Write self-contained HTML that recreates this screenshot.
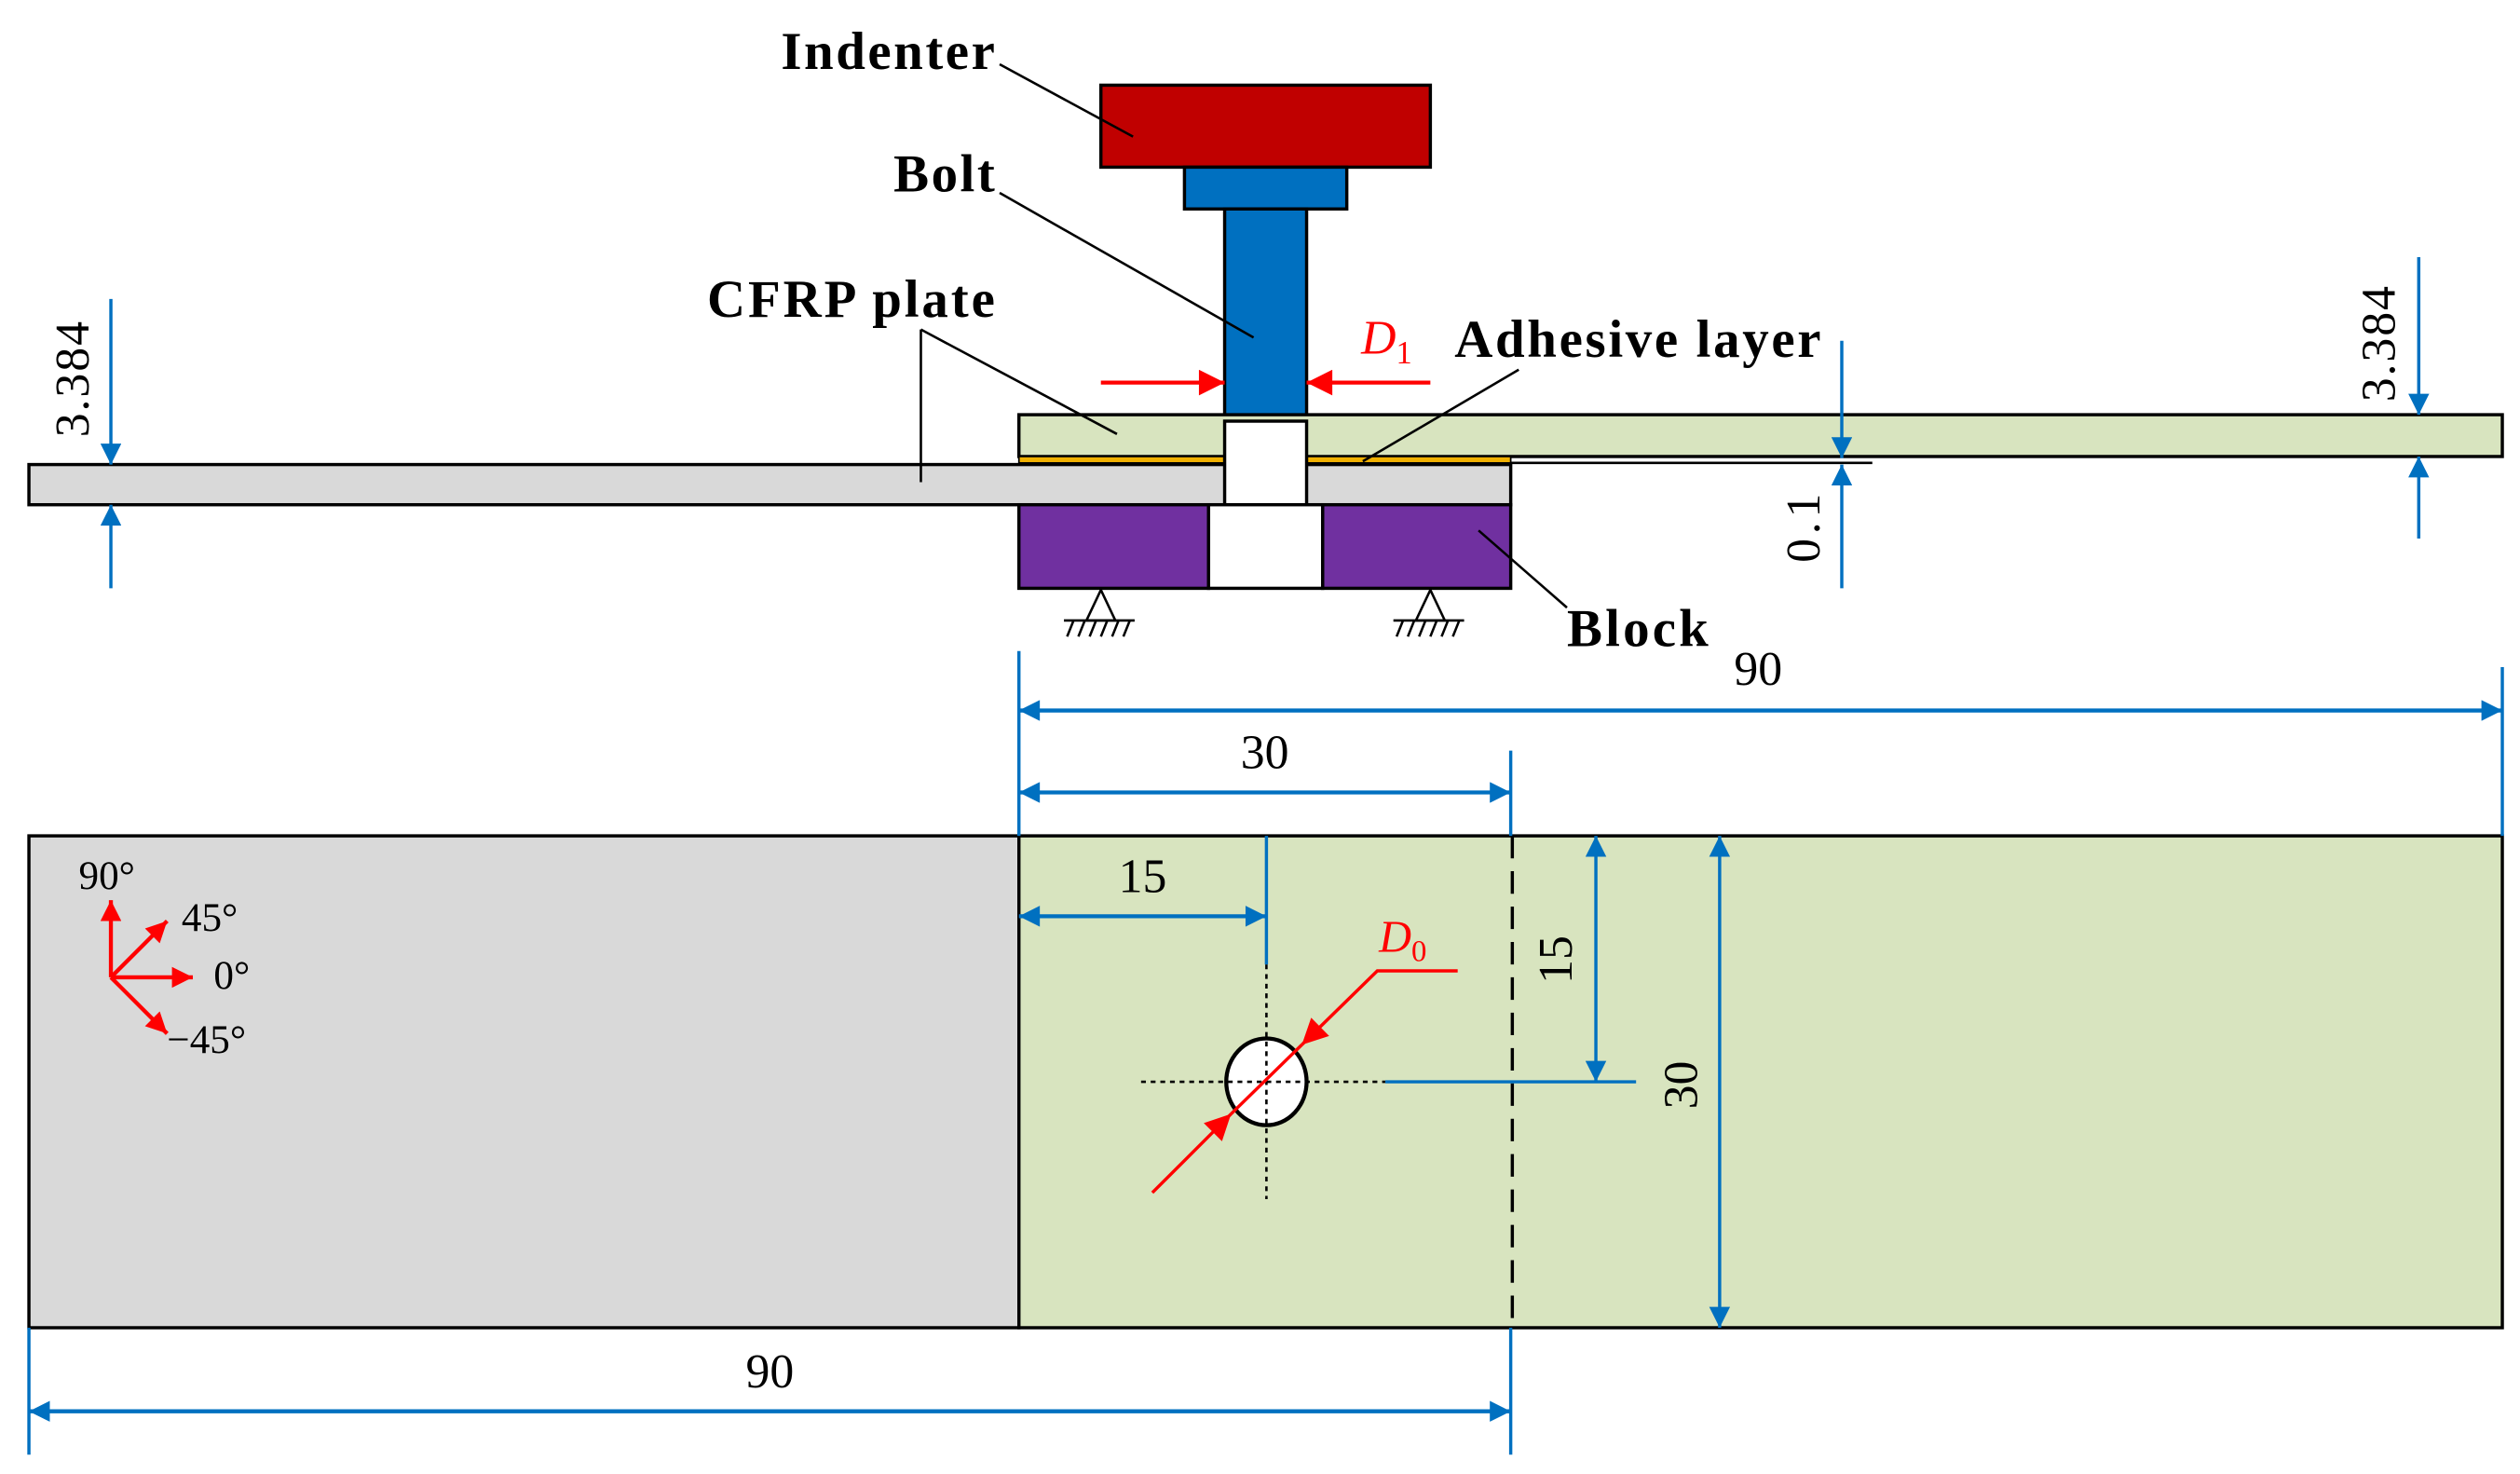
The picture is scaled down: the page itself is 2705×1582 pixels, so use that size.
<!DOCTYPE html>
<html><head><meta charset="utf-8"><style>html,body{margin:0;padding:0;background:#fff}svg{display:block}</style></head><body>
<svg width="2705" height="1582" viewBox="0 0 1568 917" preserveAspectRatio="none" xmlns="http://www.w3.org/2000/svg" font-family="Liberation Serif, serif">
<defs>
<marker id="ab" viewBox="0 0 10 10" refX="10" refY="5" markerWidth="22" markerHeight="13" markerUnits="userSpaceOnUse" orient="auto-start-reverse"><path d="M0,0L10,5L0,10z" fill="#0070c0"/></marker>
<marker id="ar" viewBox="0 0 10 10" refX="10" refY="5" markerWidth="24" markerHeight="16" markerUnits="userSpaceOnUse" orient="auto-start-reverse"><path d="M0,0L10,5L0,10z" fill="#f00"/></marker>
<marker id="ars" viewBox="0 0 10 10" refX="10" refY="5" markerWidth="18" markerHeight="13" markerUnits="userSpaceOnUse" orient="auto-start-reverse"><path d="M0,0L10,5L0,10z" fill="#f00"/></marker>
</defs>
<!-- side view -->
<rect x="685" y="53" width="205" height="51" fill="#c00000" stroke="#000" stroke-width="2"/>
<rect x="737" y="104" width="101" height="26" fill="#0070c0" stroke="#000" stroke-width="2"/>
<rect x="762" y="130" width="51" height="132" fill="#0070c0" stroke="#000" stroke-width="2"/>
<rect x="634" y="258" width="923" height="26" fill="#d8e4bf" stroke="#000" stroke-width="2"/>
<rect x="634" y="284" width="306" height="4" fill="#f0b000" stroke="#000" stroke-width="1"/>
<rect x="18" y="289" width="922" height="25" fill="#d9d9d9" stroke="#000" stroke-width="2"/>
<line x1="940" y1="288" x2="1165" y2="288" stroke="#000" stroke-width="1.5"/>
<rect x="762" y="262" width="51" height="52" fill="#fff" stroke="#000" stroke-width="2"/>
<rect x="634" y="314" width="118" height="52" fill="#7030a0" stroke="#000" stroke-width="2"/>
<rect x="752" y="314" width="71" height="52" fill="#fff" stroke="#000" stroke-width="2"/>
<rect x="823" y="314" width="117" height="52" fill="#7030a0" stroke="#000" stroke-width="2"/>
<g stroke="#000" stroke-width="1.5" fill="none">
<path d="M685,367L676,386L694,386z"/><line x1="662" y1="386" x2="706" y2="386"/>
<path d="M664,396L668,386M671,396L675,386M678,396L682,386M685,396L689,386M692,396L696,386M699,396L703,386"/>
<path d="M890,367L881,386L899,386z"/><line x1="867" y1="386" x2="911" y2="386"/>
<path d="M869,396L873,386M876,396L880,386M883,396L887,386M890,396L894,386M897,396L901,386M904,396L908,386"/>
<line x1="622" y1="40" x2="705" y2="85"/>
<line x1="622" y1="120" x2="780" y2="210"/>
<line x1="573" y1="205" x2="695" y2="270"/>
<line x1="573" y1="205" x2="573" y2="300"/>
<line x1="945" y1="230" x2="848" y2="287"/>
<line x1="975" y1="378" x2="920" y2="330"/>
</g>
<g font-weight="bold" font-size="33" fill="#000">
<text x="486" y="43" textLength="133">Indenter</text>
<text x="556" y="119" textLength="63">Bolt</text>
<text x="440" y="197" textLength="179">CFRP plate</text>
<text x="905" y="222" textLength="228">Adhesive layer</text>
<text x="975" y="402" textLength="88">Block</text>
<text x="1338" y="582" textLength="182">Upper plate</text>
<text x="55" y="787" textLength="185">Lower plate</text>
</g>
<g stroke="#f00" stroke-width="2.5" fill="none">
<line x1="685" y1="238" x2="762" y2="238" marker-end="url(#ar)"/>
<line x1="890" y1="238" x2="813" y2="238" marker-end="url(#ar)"/>
</g>
<text x="847" y="220" font-size="30" font-style="italic" fill="#f00">D<tspan font-size="20" font-style="normal" dy="6">1</tspan></text>
<!-- side dims -->
<g stroke="#0070c0" stroke-width="2" fill="none">
<line x1="69" y1="186" x2="69" y2="289" marker-end="url(#ab)"/>
<line x1="69" y1="366" x2="69" y2="314" marker-end="url(#ab)"/>
<line x1="1505" y1="160" x2="1505" y2="258" marker-end="url(#ab)"/>
<line x1="1505" y1="335" x2="1505" y2="284" marker-end="url(#ab)"/>
<line x1="1146" y1="212" x2="1146" y2="285" marker-end="url(#ab)"/>
<line x1="1146" y1="366" x2="1146" y2="289" marker-end="url(#ab)"/>
</g>
<g font-size="30" fill="#000">
<text transform="translate(55,272) rotate(-90)" textLength="72">3.384</text>
<text transform="translate(1490,250) rotate(-90)" textLength="72">3.384</text>
<text transform="translate(1132,350) rotate(-90)" textLength="43">0.1</text>
</g>
<!-- top view -->
<rect x="18" y="520" width="616" height="306" fill="#d9d9d9" stroke="#000" stroke-width="2"/>
<rect x="634" y="520" width="923" height="306" fill="#d8e4bf" stroke="#000" stroke-width="2"/>
<line x1="941" y1="520" x2="941" y2="826" stroke="#000" stroke-width="2" stroke-dasharray="14,8"/>
<ellipse cx="788" cy="673" rx="25" ry="27" fill="#fff" stroke="#000" stroke-width="2.5"/>
<g stroke="#000" stroke-width="1.5" stroke-dasharray="3,3">
<line x1="710" y1="673" x2="862" y2="673"/>
<line x1="788" y1="600" x2="788" y2="746"/>
</g>
<g stroke="#0070c0" stroke-width="2" fill="none">
<line x1="634" y1="405" x2="634" y2="520"/>
<line x1="1557" y1="415" x2="1557" y2="520"/>
<line x1="940" y1="467" x2="940" y2="520"/>
<line x1="634" y1="442" x2="1557" y2="442" marker-start="url(#ab)" marker-end="url(#ab)" stroke-width="2.5"/>
<line x1="634" y1="493" x2="940" y2="493" marker-start="url(#ab)" marker-end="url(#ab)" stroke-width="2.5"/>
<line x1="788" y1="520" x2="788" y2="600"/>
<line x1="634" y1="570" x2="788" y2="570" marker-start="url(#ab)" marker-end="url(#ab)" stroke-width="2.5"/>
<line x1="862" y1="673" x2="1018" y2="673"/>
<line x1="993" y1="520" x2="993" y2="673" marker-start="url(#ab)" marker-end="url(#ab)"/>
<line x1="1070" y1="520" x2="1070" y2="826" marker-start="url(#ab)" marker-end="url(#ab)"/>
<line x1="18" y1="826" x2="18" y2="905"/>
<line x1="940" y1="826" x2="940" y2="905"/>
<line x1="18" y1="878" x2="940" y2="878" marker-start="url(#ab)" marker-end="url(#ab)" stroke-width="2.5"/>
</g>
<g font-size="30" fill="#000">
<text x="1079" y="426">90</text>
<text x="772" y="478">30</text>
<text x="696" y="555">15</text>
<text x="464" y="863">90</text>
<text transform="translate(978,612) rotate(-90)">15</text>
<text transform="translate(1056,690) rotate(-90)">30</text>
</g>
<g stroke="#f00" stroke-width="2" fill="none">
<line x1="810" y1="650" x2="766" y2="693"/>
<polyline points="907,604 857,604 810,650" marker-end="url(#ar)"/>
<line x1="717" y1="742" x2="766" y2="693" marker-end="url(#ar)"/>
</g>
<text x="858" y="592" font-size="28" font-style="italic" fill="#f00">D<tspan font-size="19" font-style="normal" dy="6">0</tspan></text>
<g stroke="#f00" stroke-width="2.5" fill="none">
<line x1="69" y1="608" x2="69" y2="560" marker-end="url(#ars)"/>
<line x1="69" y1="608" x2="104" y2="573" marker-end="url(#ars)"/>
<line x1="69" y1="608" x2="120" y2="608" marker-end="url(#ars)"/>
<line x1="69" y1="608" x2="104" y2="643" marker-end="url(#ars)"/>
</g>
<g font-size="25" fill="#000">
<text x="49" y="553">90°</text>
<text x="113" y="579">45°</text>
<text x="133" y="615">0°</text>
<text x="104" y="655">−45°</text>
</g>
</svg>
</body></html>
